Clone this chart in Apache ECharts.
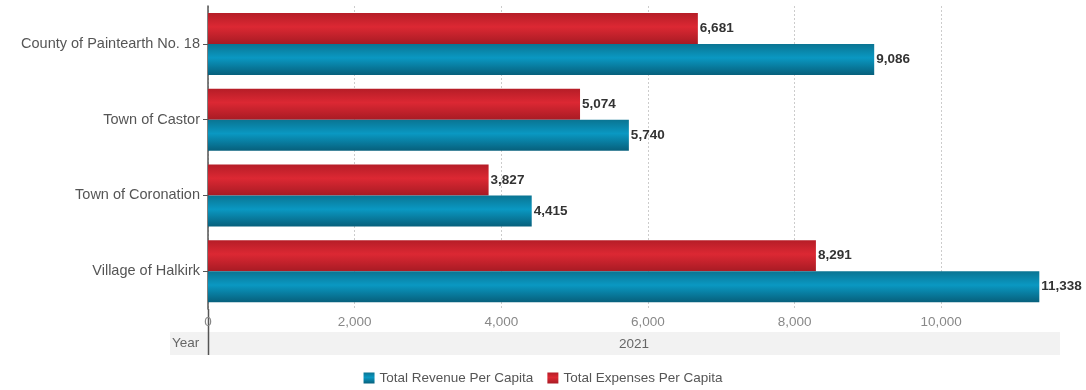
<!DOCTYPE html>
<html>
<head>
<meta charset="utf-8">
<script src="https://cdn.jsdelivr.net/npm/echarts@6/dist/echarts.min.js"></script>
<style>
  html, body { margin: 0; padding: 0; background: #fff; }
  #chart { width: 1086px; height: 390px; }
</style>
</head>
<body>
<div id="chart"></div>
<script>
const categories = ["County of Paintearth No. 18", "Town of Castor", "Town of Coronation", "Village of Halkirk"];
const revenuePerCapita = [9086, 5740, 4415, 11338];
const expensesPerCapita = [6681, 5074, 3827, 8291];
const years = ["2021"];

const chart = echarts.init(document.getElementById("chart"));

// shaded bar fill, dark at the edges and lighter through the middle
const barFill = (edge, mid, low) => new echarts.graphic.LinearGradient(0, 0, 0, 1, [
  { offset: 0, color: edge },
  { offset: 0.45, color: mid },
  { offset: 1, color: low }
]);

const valueLabel = {
  show: true,
  position: "right",
  distance: 2,
  color: "#333",
  fontWeight: "bold",
  fontSize: 13.5,
  fontFamily: "Liberation Sans, Arial, sans-serif",
  formatter: (p) => p.value.toLocaleString("en-US")
};

chart.setOption({
  animation: false,
  textStyle: { fontFamily: "Liberation Sans, Arial, sans-serif" },
  grid: { left: 208, right: 26, top: 6, bottom: 81 },
  legend: {
    bottom: 0,
    left: "center",
    itemWidth: 11,
    itemHeight: 11,
    itemGap: 14,
    icon: "rect",
    data: ["Total Revenue Per Capita", "Total Expenses Per Capita"],
    textStyle: { color: "#555", fontSize: 13.5 }
  },
  xAxis: [
    {
      type: "value",
      min: 0,
      max: 11620,
      interval: 2000,
      axisLine: { show: false },
      axisTick: { show: false },
      axisLabel: {
        color: "#888",
        fontSize: 13.5,
        margin: 6,
        showMaxLabel: false,
        formatter: (v) => v.toLocaleString("en-US")
      },
      splitLine: { showMaxLine: false, lineStyle: { color: "#ccc", type: [2, 2] } }
    },
    {
      type: "category",
      data: years,
      position: "bottom",
      offset: 20,
      axisLine: { show: false },
      axisTick: { show: false },
      axisLabel: { color: "#666", fontSize: 13.5 }
    }
  ],
  yAxis: {
    type: "category",
    data: categories,
    inverse: true,
    axisLine: { lineStyle: { color: "#555", width: 1.5 } },
    axisTick: { show: true, length: 5, alignWithLabel: true, lineStyle: { color: "#555" } },
    axisLabel: { color: "#555", fontSize: 14.5, margin: 8 }
  },
  graphic: [
    { type: "rect", z: -1, shape: { x: 170, y: 332, width: 890, height: 23 }, style: { fill: "#f2f2f2" } },
    { type: "line", shape: { x1: 208.5, y1: 309, x2: 208.5, y2: 355 }, style: { stroke: "#555", lineWidth: 1.5 } },
    {
      type: "text", left: 172, top: 336,
      style: { text: "Year", fill: "#666", font: "13.5px Liberation Sans, Arial, sans-serif" }
    }
  ],
  series: [
    {
      name: "Total Expenses Per Capita",
      type: "bar",
      data: expensesPerCapita,
      barWidth: 31,
      barGap: "0%",
      itemStyle: { color: barFill("#b51d27", "#dc2833", "#a81b24") },
      label: valueLabel
    },
    {
      name: "Total Revenue Per Capita",
      type: "bar",
      data: revenuePerCapita,
      barWidth: 31,
      barGap: "0%",
      itemStyle: { color: barFill("#0a7492", "#0a98c2", "#07607c") },
      label: valueLabel
    }
  ]
});
</script>
</body>
</html>
